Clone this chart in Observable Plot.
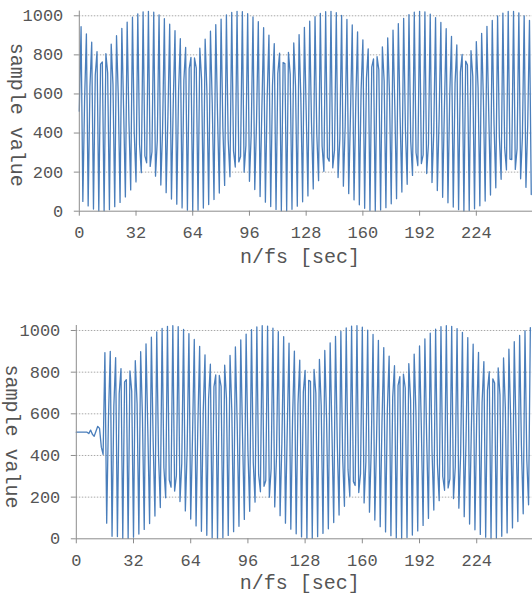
<!DOCTYPE html>
<html>
<head>
<meta charset="utf-8">
<script src="https://cdn.jsdelivr.net/npm/d3@7"></script>
<script src="https://cdn.jsdelivr.net/npm/@observablehq/plot@0.6"></script>
<style>
  html, body { margin: 0; padding: 0; background: #fff; }
  #charts { width: 532px; }
  #charts svg { display: block; }
</style>
</head>
<body>
<div id="charts"></div>
<script>
// Input signal: one 10-bit sample value per sample index n (n = 0 .. 255).
const inputSamples = [
  512, 944, 50, 574, 907, 27, 636, 865, 11, 696,
  817, 2, 753, 764, 2, 806, 708, 8, 855, 649,
  23, 898, 588, 45, 936, 525, 73, 968, 463, 109,
  993, 401, 150, 1010, 341, 197, 1020, 283, 248, 1023,
  229, 304, 1018, 179, 362, 1005, 134, 423, 985, 95,
  485, 957, 62, 548, 924, 36, 610, 883, 17, 670,
  838, 5, 729, 787, 1, 784, 732, 5, 834, 674,
  16, 880, 614, 34, 921, 552, 60, 955, 490, 93,
  983, 427, 132, 1004, 366, 176, 1017, 308, 226, 1023,
  252, 280, 1021, 200, 337, 1011, 153, 397, 994, 111,
  459, 970, 75, 521, 939, 46, 583, 901, 24, 645,
  858, 9, 704, 809, 2, 761, 756, 2, 813, 700,
  10, 861, 640, 26, 904, 579, 48, 941, 516, 78,
  972, 454, 114, 996, 392, 156, 1012, 332, 204, 1021,
  275, 256, 1023, 222, 312, 1016, 172, 371, 1002, 128,
  432, 981, 90, 494, 953, 58, 557, 918, 33, 619,
  877, 15, 679, 831, 4, 737, 779, 1, 791, 724,
  6, 841, 666, 18, 887, 605, 38, 926, 543, 64,
  960, 480, 98, 987, 418, 138, 1006, 358, 183, 1018,
  299, 233, 1023, 244, 288, 1020, 193, 345, 1009, 147,
  406, 991, 106, 468, 966, 71, 530, 934, 43, 592,
  895, 21, 654, 851, 8, 712, 802, 1, 768, 748,
  3, 821, 691, 12, 868, 631, 28, 910, 570, 52,
  946, 507, 83, 976, 445, 120, 999, 383, 163, 1014,
  324, 211, 1022, 267, 264, 1022, 214, 320, 1015, 166,
  380, 1000, 122, 441, 977, 85
];

// Output signal: held at mid-scale, a short start-up ripple, then the
// delayed waveform (n = 0 .. 254).
const outputSamples = [
  512, 512, 512, 512, 512, 512, 512, 505, 522, 502,
  492, 516, 540, 530, 440, 405, 894, 75, 585, 900,
  12, 636, 870, 11, 696,
  817, 2, 753, 764, 2, 806, 708, 8, 855, 649,
  23, 898, 588, 45, 936, 525, 73, 968, 463, 109,
  993, 401, 150, 1010, 341, 197, 1020, 283, 248, 1023,
  229, 304, 1018, 179, 362, 1005, 134, 423, 985, 95,
  485, 957, 62, 548, 924, 36, 610, 883, 17, 670,
  838, 5, 729, 787, 1, 784, 732, 5, 834, 674,
  16, 880, 614, 34, 921, 552, 60, 955, 490, 93,
  983, 427, 132, 1004, 366, 176, 1017, 308, 226, 1023,
  252, 280, 1021, 200, 337, 1011, 153, 397, 994, 111,
  459, 970, 75, 521, 939, 46, 583, 901, 24, 645,
  858, 9, 704, 809, 2, 761, 756, 2, 813, 700,
  10, 861, 640, 26, 904, 579, 48, 941, 516, 78,
  972, 454, 114, 996, 392, 156, 1012, 332, 204, 1021,
  275, 256, 1023, 222, 312, 1016, 172, 371, 1002, 128,
  432, 981, 90, 494, 953, 58, 557, 918, 33, 619,
  877, 15, 679, 831, 4, 737, 779, 1, 791, 724,
  6, 841, 666, 18, 887, 605, 38, 926, 543, 64,
  960, 480, 98, 987, 418, 138, 1006, 358, 183, 1018,
  299, 233, 1023, 244, 288, 1020, 193, 345, 1009, 147,
  406, 991, 106, 468, 966, 71, 530, 934, 43, 592,
  895, 21, 654, 851, 8, 712, 802, 1, 768, 748,
  3, 821, 691, 12, 868, 631, 28, 910, 570, 52,
  946, 507, 83, 976, 445, 120, 999, 383, 163, 1014
];

const xTicks = [0, 32, 64, 96, 128, 160, 192, 224];
const yTicks = [0, 200, 400, 600, 800, 1000];
const xTitle = "n/fs [sec]";
const yTitle = "sample value";

const FONT = "'Liberation Mono', 'Courier New', monospace";
const LINE = "#4a7ebb";
const AXIS = "#8c8c8c";
const TEXT = "#555555";
const GRID = "#a8a8a8";

function panel(values, o) {
  return Plot.plot({
    width: 532,
    height: o.height,
    marginTop: o.marginTop,
    marginBottom: o.marginBottom,
    marginLeft: o.marginLeft,
    marginRight: 0,
    style: {fontFamily: FONT, fontSize: "17px", color: TEXT, background: "#fff", overflow: "visible"},
    x: {domain: [0, o.xMax]},
    y: {domain: [0, 1024]},
    marks: [
      // dotted horizontal grid
      Plot.ruleY(yTicks.slice(1), {stroke: GRID, strokeDasharray: "1.5,1.5"}),
      // the sampled waveform, one vertex per sample
      Plot.lineY(values, {x: (d, i) => i, y: (d) => d, stroke: LINE, strokeWidth: 1.3}),
      // axis lines
      Plot.ruleX([0], {stroke: AXIS}),
      Plot.ruleY([0], {stroke: AXIS}),
      Plot.axisX(xTicks, {tickSize: 5, tickPadding: 10, tickFormat: (d) => String(d), stroke: AXIS, fill: TEXT, fontSize: 17, label: null}),
      Plot.axisY(yTicks, {tickSize: 5, tickPadding: 11, tickFormat: (d) => String(d), stroke: AXIS, fill: TEXT, fontSize: 17, label: null}),
      // axis titles
      Plot.text([xTitle], {
        text: (d) => d, frameAnchor: "bottom", textAnchor: "middle", lineAnchor: "middle",
        dx: o.xTitleDx, dy: o.xTitleDy, fontSize: 20, fill: TEXT
      }),
      Plot.text([yTitle], {
        text: (d) => d, frameAnchor: "left", textAnchor: "middle", lineAnchor: "middle", rotate: 90,
        dx: o.yTitleDx, dy: o.yTitleDy, fontSize: 20, fill: TEXT
      })
    ]
  });
}

const host = document.getElementById("charts");
host.append(panel(inputSamples, {
  height: 300, marginTop: 10.6, marginBottom: 89.3, marginLeft: 78.8, xMax: 255.7,
  xTitleDx: -6, xTitleDy: 45, yTitleDx: -62, yTitleDy: 3.5
}));
host.append(panel(outputSamples, {
  height: 296, marginTop: 25, marginBottom: 57.7, marginLeft: 75.8, xMax: 255.2,
  xTitleDx: -4.6, xTitleDy: 44, yTitleDx: -63.5, yTitleDy: 4.3
}));
</script>
</body>
</html>
